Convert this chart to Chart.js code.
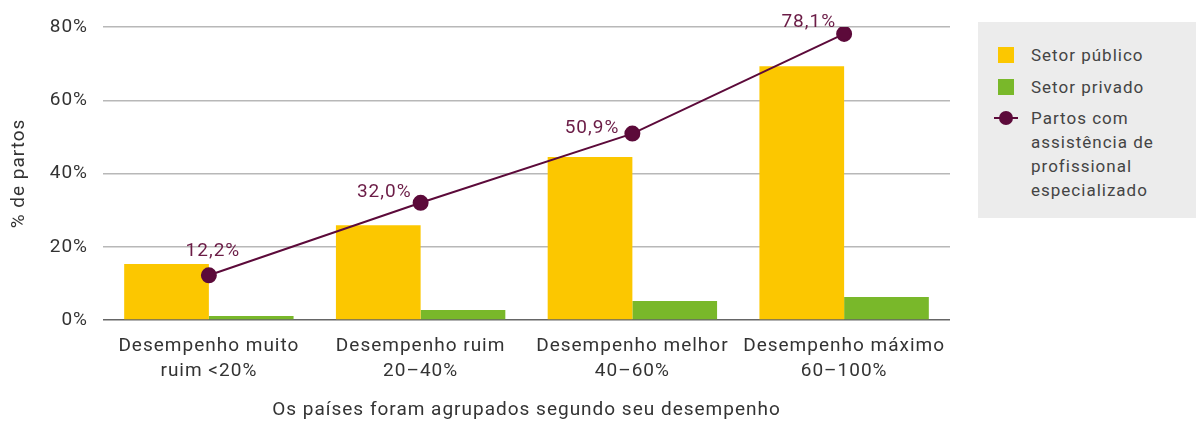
<!DOCTYPE html>
<html>
<head>
<meta charset="utf-8">
<title>Partos</title>
<script src="https://cdn.jsdelivr.net/npm/chart.js"></script>
<style>
  body { margin:0; background:#fff; font-family: Roboto, "DejaVu Sans", sans-serif; }
  #wrap { position:relative; width:1196px; height:423px; overflow:hidden; }
  #box { position:absolute; left:0; top:0; width:970px; height:423px; }
  #legend { position:absolute; left:978px; top:22px; width:218px; height:196px; background:#ececec; color:#444; font-size:17px; letter-spacing:1px; }
  .sq { position:absolute; left:20px; width:16px; height:16px; }
  .txt { position:absolute; left:53px; line-height:24px; white-space:nowrap; }
</style>
</head>
<body>
<div id="wrap">
  <div id="box"><canvas id="myChart" width="970" height="423"></canvas></div>
  <div id="legend">
    <div class="sq" style="top:25px;background:#fcc700"></div>
    <div class="txt" style="top:21px">Setor público</div>
    <div class="sq" style="top:57px;background:#79b82a"></div>
    <div class="txt" style="top:53px">Setor privado</div>
    <div style="position:absolute;left:16px;top:95px;width:24px;height:2px;background:#5c0a3a"></div>
    <div style="position:absolute;left:21px;top:89px;width:14px;height:14px;border-radius:50%;background:#5c0a3a"></div>
    <div class="txt" style="top:84px">Partos com<br>assistência de<br>profissional<br>especializado</div>
  </div>
</div>
<script>
var categories = [["Desempenho muito", "ruim <20%"], ["Desempenho ruim", "20–40%"], ["Desempenho melhor", "40–60%"], ["Desempenho máximo", "60–100%"]];
var publico = [15.3, 25.9, 44.5, 69.3];
var privado = [1.1, 2.7, 5.2, 6.3];
var partos = [12.2, 32.0, 50.9, 78.1];
var partosLabels = ["12,2%", "32,0%", "50,9%", "78,1%"];
var yTicks = [0, 20, 40, 60, 80];

// where each value label sits relative to its point
var labelOffsets = [[4, -19, 'center'], [-9, -6, 'right'], [-13, -1, 'right'], [-8, -7, 'right']];

var spacing = {
  id: 'spacing',
  beforeUpdate: function(chart) { chart.ctx.letterSpacing = '1px'; },
  beforeDraw: function(chart) { chart.ctx.letterSpacing = '1px'; }
};

var labelPlugin = {
  id: 'lineLabels',
  afterDatasetsDraw: function(chart) {
    var meta = chart.getDatasetMeta(0);
    var c = chart.ctx;
    c.save();
    c.font = '19px Roboto, "DejaVu Sans", sans-serif';
    c.fillStyle = '#6b1c46';
    c.textBaseline = 'alphabetic';
    meta.data.forEach(function(pt, i) {
      var o = labelOffsets[i];
      c.textAlign = o[2];
      c.fillText(partosLabels[i], pt.x + o[0], pt.y + o[1]);
    });
    c.restore();
  }
};

var ctx = document.getElementById('myChart');
var fnt = { size: 19, family: 'Roboto', lineHeight: 1.3 };
new Chart(ctx, {
  data: {
    labels: categories,
    datasets: [
      { type: 'line', label: 'Partos com assistência de profissional especializado', data: partos,
        borderColor: '#5c0a3a', backgroundColor: '#5c0a3a', borderWidth: 2,
        pointRadius: 7, pointHoverRadius: 7, order: 0 },
      { type: 'bar', label: 'Setor público', data: publico, backgroundColor: '#fcc700',
        categoryPercentage: 0.8, barPercentage: 1, order: 1 },
      { type: 'bar', label: 'Setor privado', data: privado, backgroundColor: '#79b82a',
        categoryPercentage: 0.8, barPercentage: 1, order: 1 }
    ]
  },
  options: {
    responsive: false,
    animation: false,
    events: [],
    layout: { padding: { top: 27, right: 20, left: 0, bottom: 0 } },
    plugins: { legend: { display: false }, tooltip: { enabled: false } },
    scales: {
      x: {
        grid: { display: false },
        border: { display: false },
        ticks: { color: '#333', font: fnt, padding: 6, maxRotation: 0, autoSkip: false },
        title: { display: true, text: 'Os países foram agrupados segundo seu desempenho', color: '#333',
                 font: fnt, padding: { top: 14, bottom: 0 } },
        afterFit: function(s) { s.height = 103; }
      },
      y: {
        min: 0, max: 80,
        afterBuildTicks: function(s) { s.ticks = yTicks.map(function(v) { return { value: v }; }); },
        grid: { drawTicks: false, lineWidth: 1.5, color: function(c) { return c.tick && c.tick.value === 0 ? '#666' : '#b8b8b8'; } },
        border: { display: false },
        ticks: { color: '#333', font: { size: 19, family: 'Roboto' }, padding: 15, callback: function(v) { return v + '%'; } },
        title: { display: true, text: '% de partos', color: '#333', font: { size: 19, family: 'Roboto' }, padding: { top: 8, bottom: 0 } },
        afterFit: function(s) { s.width = 103; }
      }
    }
  },
  plugins: [spacing, labelPlugin]
});
</script>
</body>
</html>
